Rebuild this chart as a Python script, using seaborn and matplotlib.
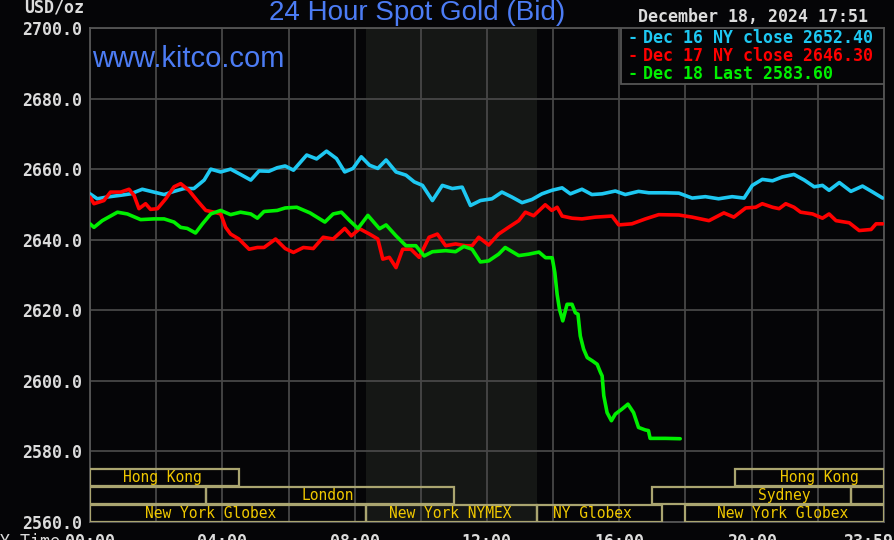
import numpy as np
import pandas as pd
import seaborn as sns
import matplotlib.pyplot as plt
from matplotlib.patches import Rectangle

# --- data (hours since 00:00 NY time, USD/oz) ---
dec16_hour = [0.0, 0.22, 0.52, 0.93, 1.23, 1.58, 1.93, 2.24, 2.54, 2.84, 3.14, 3.45, 3.65, 3.95,
              4.25, 4.55, 4.86, 5.11, 5.41, 5.66, 5.9, 6.15, 6.55, 6.85, 7.15, 7.45, 7.7, 7.95,
              8.2, 8.45, 8.7, 8.95, 9.25, 9.55, 9.8, 10.05, 10.35, 10.65, 10.95, 11.25, 11.5, 11.8,
              12.15, 12.45, 12.75, 13.06, 13.36, 13.66, 13.96, 14.27, 14.52, 14.87, 15.17, 15.48,
              15.88, 16.18, 16.58, 16.89, 17.39, 17.8, 18.2, 18.6, 19.0, 19.41, 19.77, 20.02,
              20.32, 20.63, 20.93, 21.28, 21.59, 21.89, 22.14, 22.34, 22.65, 23.0, 23.35, 23.66, 23.96]
dec16_price = [2653.0, 2651.6, 2652.1, 2652.6, 2653.0, 2654.3, 2653.5, 2652.8, 2653.7, 2654.5, 2654.5,
               2656.9, 2660.0, 2659.2, 2660.0, 2658.5, 2656.9, 2659.5, 2659.4, 2660.4, 2660.9, 2659.7,
               2664.0, 2662.9, 2665.1, 2663.0, 2659.2, 2660.2, 2663.5, 2661.1, 2660.2, 2662.6, 2659.2,
               2658.3, 2656.4, 2655.4, 2651.1, 2655.4, 2654.5, 2654.9, 2649.7, 2651.1, 2651.6, 2653.5,
               2652.1, 2650.5, 2651.4, 2653.0, 2654.0, 2654.7, 2653.0, 2654.3, 2652.8, 2653.0, 2653.8,
               2652.8, 2653.7, 2653.3, 2653.3, 2653.2, 2651.8, 2652.2, 2651.6, 2652.2, 2651.8, 2655.4,
               2657.1, 2656.7, 2657.8, 2658.5, 2656.9, 2655.0, 2655.4, 2654.0, 2656.2, 2653.7, 2655.2,
               2653.5, 2651.8]

dec17_hour = [0.0, 0.12, 0.42, 0.62, 0.93, 1.18, 1.33, 1.48, 1.68, 1.83, 2.04, 2.29, 2.54, 2.74, 2.99,
              3.24, 3.5, 3.75, 3.95, 4.1, 4.25, 4.5, 4.81, 5.06, 5.26, 5.61, 5.9, 6.15, 6.45, 6.75,
              7.05, 7.35, 7.7, 7.9, 8.15, 8.45, 8.7, 8.85, 9.05, 9.25, 9.45, 9.7, 9.95, 10.25, 10.5,
              10.75, 11.05, 11.35, 11.55, 11.75, 12.05, 12.35, 12.65, 12.96, 13.16, 13.41, 13.76,
              13.96, 14.12, 14.27, 14.57, 14.87, 15.27, 15.78, 15.98, 16.38, 16.79, 17.19, 17.8,
              18.2, 18.71, 19.16, 19.46, 19.82, 20.12, 20.32, 20.63, 20.83, 21.03, 21.28, 21.48,
              21.84, 22.14, 22.34, 22.55, 22.95, 23.25, 23.61, 23.76, 23.96]
dec17_price = [2652.1, 2650.2, 2651.1, 2653.5, 2653.5, 2654.3, 2652.6, 2648.8, 2650.2, 2648.6, 2648.8,
               2651.6, 2655.0, 2655.9, 2654.0, 2651.1, 2648.3, 2647.8, 2647.3, 2643.5, 2641.6, 2640.2,
               2637.3, 2637.8, 2637.8, 2640.2, 2637.5, 2636.4, 2637.8, 2637.5, 2640.7, 2640.2, 2643.2,
               2641.1, 2643.1, 2641.6, 2640.2, 2634.5, 2635.0, 2632.1, 2637.3, 2637.3, 2635.0, 2640.7,
               2641.6, 2638.3, 2638.8, 2638.3, 2638.3, 2640.7, 2638.5, 2641.6, 2643.5, 2645.4, 2647.8,
               2646.8, 2649.9, 2648.3, 2649.2, 2646.7, 2646.1, 2645.9, 2646.4, 2646.7, 2644.2, 2644.5,
               2645.9, 2647.1, 2647.0, 2646.4, 2645.4, 2647.6, 2646.4, 2649.0, 2649.2, 2650.2, 2649.2,
               2648.8, 2650.2, 2649.2, 2647.8, 2647.3, 2646.1, 2647.3, 2645.4, 2644.8, 2642.6, 2642.9,
               2644.5, 2644.5]

dec18_hour = [0.0, 0.12, 0.37, 0.83, 1.13, 1.53, 1.93, 2.24, 2.54, 2.74, 2.94, 3.19, 3.4, 3.65, 3.95,
              4.25, 4.55, 4.86, 5.06, 5.26, 5.66, 5.9, 6.25, 6.65, 7.1, 7.35, 7.6, 7.85, 8.1, 8.4,
              8.75, 8.95, 9.25, 9.55, 9.85, 10.1, 10.35, 10.75, 11.05, 11.3, 11.55, 11.8, 12.05,
              12.35, 12.55, 12.96, 13.26, 13.57, 13.77, 13.97, 14.05, 14.12, 14.19, 14.29, 14.42,
              14.57, 14.67, 14.75, 14.82, 14.92, 15.03, 15.18, 15.33, 15.43, 15.48, 15.53, 15.63,
              15.76, 15.88, 16.08, 16.26, 16.43, 16.58, 16.78, 16.88, 16.93, 17.39, 17.84]
dec18_price = [2644.5, 2643.5, 2645.4, 2647.8, 2647.3, 2645.7, 2645.9, 2645.9, 2645.0, 2643.5, 2643.2,
               2641.9, 2644.5, 2647.3, 2648.3, 2647.1, 2647.8, 2647.3, 2646.1, 2648.0, 2648.3, 2649.0,
               2649.2, 2647.6, 2645.0, 2647.3, 2647.8, 2645.4, 2643.2, 2646.9, 2643.1, 2644.2, 2641.1,
               2638.3, 2638.3, 2635.4, 2636.6, 2636.9, 2636.6, 2638.1, 2637.3, 2633.7, 2634.0, 2635.9,
               2637.8, 2635.5, 2635.9, 2636.5, 2634.9, 2634.9, 2630.7, 2624.5, 2620.3, 2617.0, 2621.7,
               2621.7, 2619.3, 2618.9, 2612.7, 2609.0, 2606.6, 2605.7, 2604.7, 2602.4, 2601.4, 2595.8,
               2591.0, 2588.7, 2590.6, 2592.0, 2593.4, 2591.0, 2586.8, 2586.1, 2585.9, 2583.7, 2583.7,
               2583.6]

series_names = ['Dec 16 NY close 2652.40', 'Dec 17 NY close 2646.30', 'Dec 18 Last 2583.60']
series_colors = ['#1ec8f2', '#ff0000', '#00f000']

y_ticks = [2560, 2580, 2600, 2620, 2640, 2660, 2680, 2700]
x_label_hours = [0, 4, 8, 12, 16, 20]
x_labels = ['00:00', '04:00', '08:00', '12:00', '16:00', '20:00']

# trading sessions: (row, start hour, end hour, label, label centre hour)
sessions = [
    (2, 0.0, 4.5, 'Hong Kong', 2.2),
    (2, 19.5, 24.0, 'Hong Kong', 22.05),
    (1, 0.0, 3.5, '', 0),
    (1, 3.5, 11.0, 'London', 7.2),
    (1, 17.0, 23.0, 'Sydney', 21.0),
    (1, 23.0, 24.0, '', 0),
    (0, 0.0, 8.33, 'New York Globex', 3.65),
    (0, 8.33, 13.5, 'New York NYMEX', 10.9),
    (0, 13.5, 17.3, 'NY Globex', 15.2),
    (0, 18.0, 24.0, 'New York Globex', 20.95),
]

df = pd.concat([
    pd.DataFrame({'hour': dec16_hour, 'price': dec16_price, 'series': series_names[0]}),
    pd.DataFrame({'hour': dec17_hour, 'price': dec17_price, 'series': series_names[1]}),
    pd.DataFrame({'hour': dec18_hour, 'price': dec18_price, 'series': series_names[2]}),
])

# --- style ---
sns.set_style('dark')
BG = '#050507'
MONO = ['DejaVu Sans Mono']
plt.rcParams['font.family'] = ['DejaVu Sans', 'DejaVu Sans Mono']

fig = plt.figure(figsize=(8.94, 5.40), dpi=100, facecolor=BG)
W, H = 894, 540
ax = fig.add_axes([90 / W, 18 / H, 794 / W, 494 / H], facecolor=BG)

def fx(px):
    return px / W

def fy(py):
    return 1 - py / H

# NYMEX session shading
ax.axvspan(8.33, 13.5, color='#151715', zorder=0, lw=0)

sns.lineplot(data=df, x='hour', y='price', hue='series', hue_order=series_names,
             palette=dict(zip(series_names, series_colors)), estimator=None, sort=False,
             linewidth=2.6, legend=False, ax=ax, zorder=3)

ax.set_xlim(0, 24)
ax.set_ylim(2560, 2700)
ax.set_xlabel('')
ax.set_ylabel('')
ax.set_xticks(np.arange(0, 25, 2))
ax.set_xticklabels([])
ax.set_yticks(y_ticks)
ax.set_yticklabels([f'{v:.1f}' for v in y_ticks], family=MONO, fontweight='bold',
                   fontsize=12, color='#dcdcdc')
ax.tick_params(length=0, pad=6)
ax.grid(True, color='#474747', linewidth=1.3, zorder=1)
ax.set_axisbelow(True)
for s in ax.spines.values():
    s.set_color('#555555')
    s.set_linewidth(1.3)

# session boxes
row_bottom = [2560.1, 2565.1, 2570.3]
for row, start, end, label, lx in sessions:
    ax.add_patch(Rectangle((start, row_bottom[row]), end - start, 4.75, facecolor='none',
                           edgecolor='#aaa570', linewidth=1.6, zorder=4))
    if label:
        ax.text(lx, row_bottom[row] + 2.3, label, ha='center', va='center', family=MONO,
                fontsize=10.5, color='#f0c800', zorder=5)

# legend box
ax.add_patch(Rectangle(((621 - 90) / 794, (522 - 83.5) / 494), (884 - 621) / 794,
                       (83.5 - 28) / 494, transform=ax.transAxes, facecolor=BG,
                       edgecolor='#555555', linewidth=1.3, zorder=6))
for i, (name, col) in enumerate(zip(series_names, series_colors)):
    yy = fy(38 + i * 17.8)
    fig.text(fx(628), yy, '-', color=col, family=MONO, fontsize=12, fontweight='bold',
             va='center', ha='left', zorder=7)
    fig.text(fx(643), yy, name, color=col, family=MONO, fontsize=12, fontweight='bold',
             va='center', ha='left', zorder=7)

# header texts
fig.text(fx(417), fy(13), '24 Hour Spot Gold (Bid)', color='#4c7cf4', fontsize=20,
         family=['Liberation Sans', 'DejaVu Sans'], ha='center', va='center')
fig.text(fx(92), fy(59), 'www.kitco.com', color='#4c7cf4', fontsize=21,
         family=['Liberation Sans', 'DejaVu Sans'], ha='left', va='center')
fig.text(fx(84), fy(8), 'USD/oz', color='#dcdcdc', family=MONO, fontsize=12,
         fontweight='bold', ha='right', va='center')
fig.text(fx(868), fy(17), 'December 18, 2024 17:51', color='#dcdcdc', family=MONO,
         fontsize=12, fontweight='bold', ha='right', va='center')

# x labels (partly cut off by the bottom edge, as in the original)
xt = ax.get_xaxis_transform()
for h, lab in zip(x_label_hours, x_labels):
    ax.text(h, -11 / 494, lab, transform=xt, ha='center', va='top', family=MONO,
            fontsize=12, fontweight='bold', color='#dcdcdc', clip_on=False)
ax.annotate('23:59', xy=(24, -11 / 494), xycoords=xt, xytext=(6.5, 0),
            textcoords='offset points', ha='right', va='top', family=MONO, fontsize=12,
            fontweight='bold', color='#dcdcdc', annotation_clip=False)
fig.text(fx(60), fy(533), 'NY Time', color='#dcdcdc', family=MONO, fontsize=12,
         ha='right', va='top')

fig.savefig('out.png', dpi=100, facecolor=BG)
